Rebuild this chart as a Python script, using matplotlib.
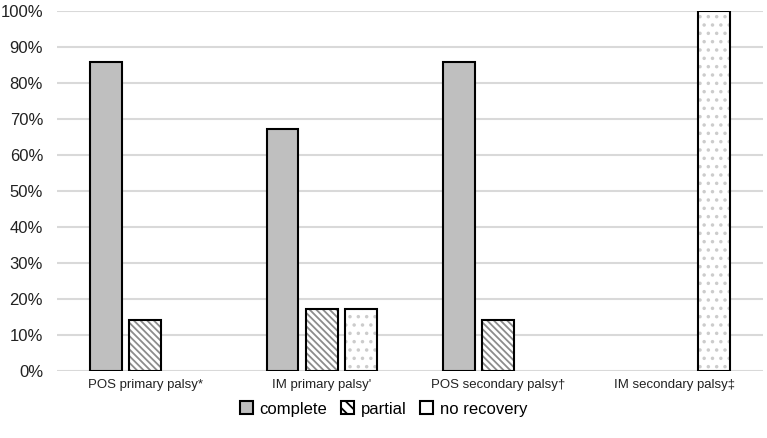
import numpy as np
import matplotlib.pyplot as plt
from matplotlib.patches import Patch

plt.rcParams['font.family'] = ['Liberation Sans', 'DejaVu Sans']
plt.rcParams['hatch.linewidth'] = 1.3

categories = ["POS primary palsy*", "IM primary palsy'", "POS secondary palsy\u2020", "IM secondary palsy\u2021"]
complete = [85.7, 67.3, 85.7, 0]
partial = [14.3, 17.2, 14.3, 0]
no_recovery = [0, 17.2, 0, 100]

fig = plt.figure(figsize=(7.67, 4.38), dpi=100)
ax = fig.add_axes([57 / 767, 1 - 371 / 438, 706 / 767, 360 / 438])

x = np.arange(len(categories))
w = 0.18
step = 0.222


def draw(pos, vals, **style):
    vals = np.asarray(vals)
    keep = vals > 0
    outline = style.pop('outline', False)
    ax.bar(pos[keep], vals[keep], w, zorder=3, **style)
    if outline:
        ax.bar(pos[keep], vals[keep], w, fill=False, edgecolor='black', linewidth=1.5, zorder=4)


# complete: solid gray
draw(x - step, complete, color='#bfbfbf', edgecolor='black', linewidth=1.5)
# partial: gray diagonal hatch with black outline
draw(x, partial, color='white', edgecolor='#8c8c8c', hatch='\\\\\\\\\\', linewidth=0, outline=True)
# no recovery: light dotted
draw(x + step, no_recovery, color='white', edgecolor='#cccccc', hatch='..', linewidth=0, outline=True)

ax.set_xlim(-0.5, 3.5)
ax.set_ylim(0, 100)
ax.set_yticks(np.arange(0, 101, 10))
ax.set_yticklabels([f"{v}%" for v in range(0, 101, 10)], fontsize=12, color='#222222')
ax.set_xticks(x)
ax.set_xticklabels(categories, fontsize=9.5, color='#222222')
ax.tick_params(axis='y', length=0, pad=10)
ax.tick_params(axis='x', length=0, pad=6)
ax.yaxis.grid(True, color='#d9d9d9', linewidth=1.5, zorder=0)
for s in ax.spines.values():
    s.set_visible(False)

handles = [
    Patch(facecolor='#bfbfbf', edgecolor='black', linewidth=1.5),
    Patch(facecolor='white', edgecolor='black', hatch='\\\\\\', linewidth=1.5),
    Patch(facecolor='white', edgecolor='black', linewidth=1.5),
]
fig.legend(handles, ['complete', 'partial', 'no recovery'], loc='center', bbox_to_anchor=(0.5, 1 - 409 / 438),
           ncol=3, frameon=False, fontsize=12, handlelength=0.8, handleheight=0.8,
           handletextpad=0.4, columnspacing=0.8)

fig.savefig('out.png', dpi=100)
